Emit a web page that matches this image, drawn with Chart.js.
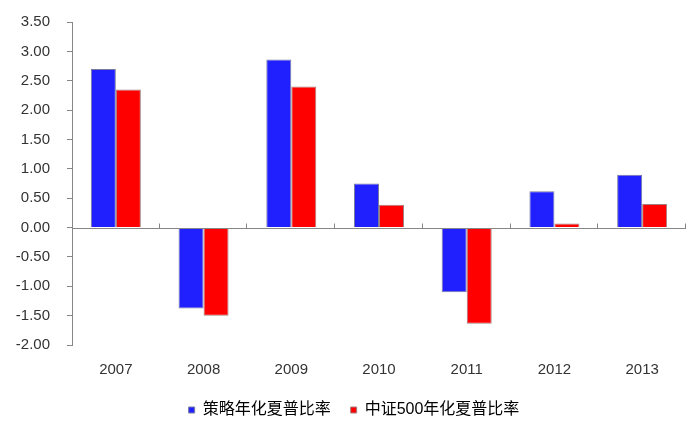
<!DOCTYPE html>
<html>
<head>
<meta charset="utf-8">
<script src="https://cdn.jsdelivr.net/npm/chart.js@4/dist/chart.umd.min.js"></script>
<style>
html,body{margin:0;padding:0;background:#fff;}
#wrap{width:693px;height:429px;position:relative;}
</style>
</head>
<body>
<div id="wrap"><canvas id="c" width="693" height="429"></canvas></div>
<script>
const years = ['2007','2008','2009','2010','2011','2012','2013'];
const strategySharpe = [2.70, -1.38, 2.86, 0.75, -1.10, 0.62, 0.90];
const csi500Sharpe = [2.35, -1.50, 2.40, 0.39, -1.64, 0.07, 0.40];
const seriesNames = ['策略年化夏普比率', '中证500年化夏普比率'];
const yMin = -2.0, yMax = 3.5, yStep = 0.5;

const axisColor = '#868686';

const zeroAxisPlugin = {
  id: 'zeroAxis',
  afterLayout(chart) {
    if (chart.legend) {
      chart.legend.left += 11;
      chart.legend.right += 11;
    }
  },
  afterDatasetsDraw(chart) {
    const {ctx, chartArea, scales} = chart;
    const y0 = Math.round(scales.y.getPixelForValue(0)) + 0.5;
    const n = chart.data.labels.length;
    const cw = (chartArea.right - chartArea.left) / n;
    ctx.save();
    ctx.strokeStyle = axisColor;
    ctx.lineWidth = 1;
    ctx.beginPath();
    ctx.moveTo(chartArea.left, y0);
    ctx.lineTo(chartArea.right, y0);
    for (let k = 1; k <= n; k++) {
      const x = Math.round(chartArea.left + k * cw) - 0.5;
      ctx.moveTo(x, y0);
      ctx.lineTo(x, y0 - 5);
    }
    ctx.stroke();
    ctx.restore();
  }
};

new Chart(document.getElementById('c'), {
  type: 'bar',
  data: {
    labels: years,
    datasets: [
      {label: seriesNames[0], data: strategySharpe, backgroundColor: '#2020FF', borderColor: '#7a7aa0', borderWidth: 1},
      {label: seriesNames[1], data: csi500Sharpe, backgroundColor: '#FF0000', borderColor: '#a08080', borderWidth: 1}
    ]
  },
  options: {
    responsive: false,
    animation: false,
    devicePixelRatio: 1,
    layout: {padding: {top: 22, right: 7, bottom: 1, left: 0}},
    datasets: {bar: {categoryPercentage: 0.57, barPercentage: 1.0}},
    plugins: {
      tooltip: {enabled: false},
      legend: {
        position: 'bottom',
        labels: {
          boxWidth: 6, boxHeight: 6, padding: 20,
          color: '#000',
          font: {family: '"Liberation Sans", "Noto Sans CJK SC", sans-serif', size: 16}
        }
      }
    },
    scales: {
      x: {
        grid: {display: false, drawTicks: false},
        border: {display: false},
        ticks: {color: '#333', padding: 16, font: {family: '"Liberation Sans", Arial, sans-serif', size: 15}},
        afterFit(s) { s.height = 37; }
      },
      y: {
        min: yMin, max: yMax,
        ticks: {stepSize: yStep, color: '#333', padding: 17,
          font: {family: '"Liberation Sans", Arial, sans-serif', size: 15},
          callback: v => Number(v).toFixed(2)},
        grid: {display: true, drawOnChartArea: false, drawTicks: true, tickLength: 5, color: axisColor},
        border: {display: true, color: axisColor},
        afterFit(s) { s.width = 72; s.paddingTop = 0; s.paddingBottom = 0; }
      }
    }
  },
  plugins: [zeroAxisPlugin]
});
</script>
</body>
</html>
